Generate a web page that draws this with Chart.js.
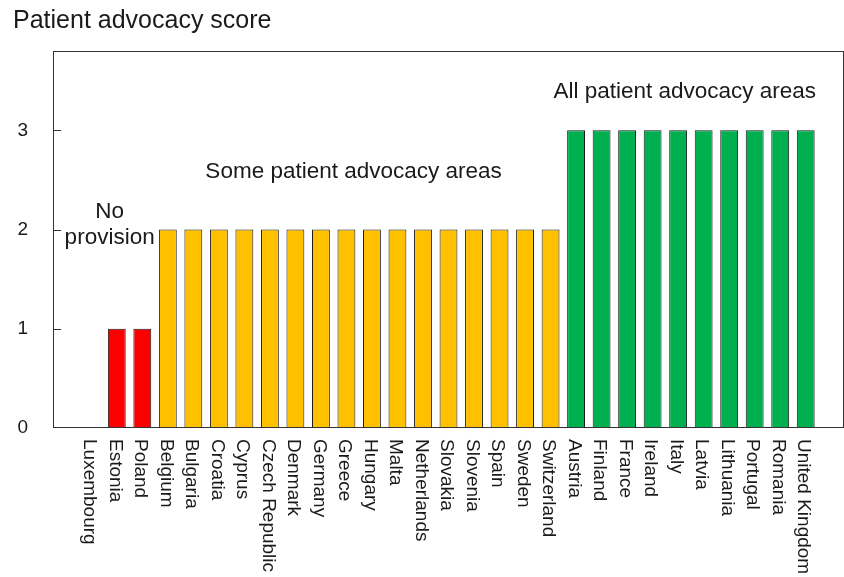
<!DOCTYPE html>
<html>
<head>
<meta charset="utf-8">
<script src="https://cdn.jsdelivr.net/npm/chart.js@4.4.1/dist/chart.umd.min.js"></script>
<style>
  html, body { margin: 0; padding: 0; background: #ffffff; }
  #wrap { position: relative; width: 844px; height: 577px; }
</style>
</head>
<body>
<div id="wrap"><canvas id="chart"></canvas></div>
<script>
/* ==========================================================
   DATA
========================================================== */

const countries = [
    "Luxembourg", "Estonia", "Poland",
    "Belgium", "Bulgaria", "Croatia", "Cyprus", "Czech Republic", "Denmark",
    "Germany", "Greece", "Hungary", "Malta", "Netherlands", "Slovakia",
    "Slovenia", "Spain", "Sweden", "Switzerland",
    "Austria", "Finland", "France", "Ireland", "Italy", "Latvia",
    "Lithuania", "Portugal", "Romania", "United Kingdom"
];

const scores = [
    0, 1, 1,
    2, 2, 2, 2, 2, 2, 2, 2, 2, 2, 2, 2, 2, 2, 2, 2,
    3, 3, 3, 3, 3, 3, 3, 3, 3, 3
];

const yTicks = [0, 1, 2, 3];
const yMax = 3.8;

const scoreColors = { 1: "#FF0000", 2: "#FFC000", 3: "#00B050" };

// group captions (x = category index, y = score at text baseline)
const groupNotes = [
    { lines: ["No", "provision"], x: 0.72, y: 2.12 },
    { lines: ["Some patient advocacy areas"], x: 10.28, y: 2.52 },
    { lines: ["All patient advocacy areas"], x: 23.26, y: 3.33 }
];

const FONT = "'Liberation Sans', Arial, sans-serif";
const INK = "#1a1a1a";

// one empty slot at each end, like the original axis
const paddedLabels = ["", ...countries, ""];
const paddedScores = [null, ...scores, null];

/* ==========================================================
   DECORATION PLUGIN
========================================================== */

const decorPlugin = {

    id: "decor",

    afterDraw(chart) {

        const {
            ctx,
            chartArea: { left, right, top, bottom },
            scales: { x, y }
        } = chart;

        ctx.save();

        // plot frame
        ctx.strokeStyle = "#333333";
        ctx.lineWidth = 1;
        ctx.strokeRect(left + 0.5, top + 0.5, right - left - 1, bottom - top - 1);

        // inward tick marks
        yTicks.forEach(v => {
            if (v === 0) return;
            const py = Math.round(y.getPixelForValue(v)) + 0.5;
            ctx.beginPath();
            ctx.moveTo(left, py);
            ctx.lineTo(left + 8, py);
            ctx.stroke();
        });

        // y title
        ctx.fillStyle = INK;
        ctx.font = "25px " + FONT;
        ctx.textAlign = "left";
        ctx.textBaseline = "alphabetic";
        ctx.fillText("Patient advocacy score", 13, 28);

        // vertical country labels, reading downward
        ctx.font = "19px " + FONT;
        ctx.textBaseline = "middle";
        countries.forEach((name, i) => {
            const px = x.getPixelForValue(i + 1);
            ctx.save();
            ctx.translate(px - 2, bottom + 11);
            ctx.rotate(Math.PI / 2);
            ctx.fillText(name, 0, 0);
            ctx.restore();
        });

        // group captions
        ctx.font = "22.5px " + FONT;
        ctx.textAlign = "center";
        ctx.textBaseline = "alphabetic";
        groupNotes.forEach(note => {
            const px = x.getPixelForValue(note.x + 1);
            const py = y.getPixelForValue(note.y);
            note.lines.forEach((line, k) => {
                ctx.fillText(line, px, py + k * 26);
            });
        });

        ctx.restore();
    }
};

/* ==========================================================
   CHART
========================================================== */

new Chart(document.getElementById("chart"), {

    type: "bar",

    data: {
        labels: paddedLabels,
        datasets: [{
            data: paddedScores,
            backgroundColor: paddedScores.map(v => scoreColors[v] ?? "rgba(0,0,0,0)"),
            borderColor: paddedScores.map(v => v ? "#1a1a1a" : "rgba(0,0,0,0)"),
            borderWidth: 1,
            barPercentage: 0.7,
            categoryPercentage: 1
        }]
    },

    options: {
        responsive: true,
        maintainAspectRatio: false,
        animation: false,
        layout: {
            padding: { top: 51, right: 0, left: 0, bottom: 0 }
        },
        plugins: {
            legend: { display: false },
            tooltip: { enabled: false },
            title: { display: false }
        },
        scales: {
            x: {
                grid: { display: false },
                border: { display: false },
                ticks: { display: false },
                afterFit(scale) { scale.height = 149; }
            },
            y: {
                min: 0,
                max: yMax,
                grid: { drawOnChartArea: false, drawTicks: false },
                border: { display: false },
                ticks: {
                    padding: 25,
                    color: INK,
                    font: { family: FONT, size: 19 }
                },
                afterBuildTicks(scale) {
                    scale.ticks = yTicks.map(v => ({ value: v }));
                },
                afterFit(scale) { scale.width = 53; }
            }
        }
    },

    plugins: [decorPlugin]
});
</script>
</body>
</html>
